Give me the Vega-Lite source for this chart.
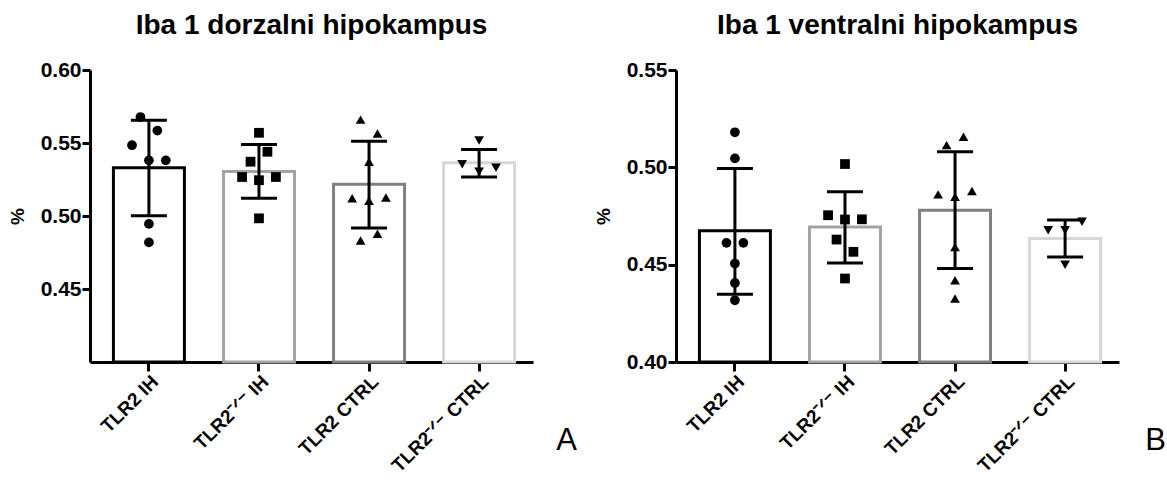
{
  "$schema": "https://vega.github.io/schema/vega-lite/v6.json",
  "padding": {"left": 8, "top": 12, "right": 0, "bottom": 0},
  "background": "white",
  "datasets": {
    "summary": [
      {"panel": "A", "group": "TLR2 IH", "mean": 0.5331, "lo": 0.5002, "hi": 0.5655},
      {"panel": "A", "group": "TLR2⁻ᐟ⁻ IH", "mean": 0.5304, "lo": 0.5122, "hi": 0.549},
      {"panel": "A", "group": "TLR2 CTRL", "mean": 0.5218, "lo": 0.4918, "hi": 0.5512},
      {"panel": "A", "group": "TLR2⁻ᐟ⁻ CTRL", "mean": 0.5365, "lo": 0.5267, "hi": 0.5456},
      {"panel": "B", "group": "TLR2 IH", "mean": 0.4674, "lo": 0.4348, "hi": 0.4994},
      {"panel": "B", "group": "TLR2⁻ᐟ⁻ IH", "mean": 0.4694, "lo": 0.4509, "hi": 0.4874},
      {"panel": "B", "group": "TLR2 CTRL", "mean": 0.478, "lo": 0.448, "hi": 0.508},
      {"panel": "B", "group": "TLR2⁻ᐟ⁻ CTRL", "mean": 0.4634, "lo": 0.454, "hi": 0.4729}
    ],
    "points": [
      {"panel": "A", "group": "TLR2 IH", "value": 0.5678, "slot": -1},
      {"panel": "A", "group": "TLR2 IH", "value": 0.5585, "slot": 1},
      {"panel": "A", "group": "TLR2 IH", "value": 0.5485, "slot": -2},
      {"panel": "A", "group": "TLR2 IH", "value": 0.5381, "slot": 0},
      {"panel": "A", "group": "TLR2 IH", "value": 0.5381, "slot": 2},
      {"panel": "A", "group": "TLR2 IH", "value": 0.4946, "slot": 0},
      {"panel": "A", "group": "TLR2 IH", "value": 0.4819, "slot": 0},
      {"panel": "A", "group": "TLR2⁻ᐟ⁻ IH", "value": 0.557, "slot": 0},
      {"panel": "A", "group": "TLR2⁻ᐟ⁻ IH", "value": 0.544, "slot": 1},
      {"panel": "A", "group": "TLR2⁻ᐟ⁻ IH", "value": 0.5372, "slot": -1},
      {"panel": "A", "group": "TLR2⁻ᐟ⁻ IH", "value": 0.5267, "slot": -2},
      {"panel": "A", "group": "TLR2⁻ᐟ⁻ IH", "value": 0.5245, "slot": 0},
      {"panel": "A", "group": "TLR2⁻ᐟ⁻ IH", "value": 0.5267, "slot": 2},
      {"panel": "A", "group": "TLR2⁻ᐟ⁻ IH", "value": 0.4984, "slot": 0},
      {"panel": "A", "group": "TLR2 CTRL", "value": 0.566, "slot": -1},
      {"panel": "A", "group": "TLR2 CTRL", "value": 0.5565, "slot": 1},
      {"panel": "A", "group": "TLR2 CTRL", "value": 0.5372, "slot": 0},
      {"panel": "A", "group": "TLR2 CTRL", "value": 0.5122, "slot": -2},
      {"panel": "A", "group": "TLR2 CTRL", "value": 0.5104, "slot": 0},
      {"panel": "A", "group": "TLR2 CTRL", "value": 0.5127, "slot": 2},
      {"panel": "A", "group": "TLR2 CTRL", "value": 0.4832, "slot": -1},
      {"panel": "A", "group": "TLR2 CTRL", "value": 0.4878, "slot": 1},
      {"panel": "A", "group": "TLR2⁻ᐟ⁻ CTRL", "value": 0.5517, "slot": 0},
      {"panel": "A", "group": "TLR2⁻ᐟ⁻ CTRL", "value": 0.5354, "slot": -2},
      {"panel": "A", "group": "TLR2⁻ᐟ⁻ CTRL", "value": 0.5331, "slot": 2},
      {"panel": "A", "group": "TLR2⁻ᐟ⁻ CTRL", "value": 0.5304, "slot": 0},
      {"panel": "B", "group": "TLR2 IH", "value": 0.518, "slot": 0},
      {"panel": "B", "group": "TLR2 IH", "value": 0.5046, "slot": 0},
      {"panel": "B", "group": "TLR2 IH", "value": 0.4612, "slot": -1},
      {"panel": "B", "group": "TLR2 IH", "value": 0.4612, "slot": 1},
      {"panel": "B", "group": "TLR2 IH", "value": 0.4506, "slot": 0},
      {"panel": "B", "group": "TLR2 IH", "value": 0.4406, "slot": 0},
      {"panel": "B", "group": "TLR2 IH", "value": 0.4317, "slot": 0},
      {"panel": "B", "group": "TLR2⁻ᐟ⁻ IH", "value": 0.5017, "slot": 0},
      {"panel": "B", "group": "TLR2⁻ᐟ⁻ IH", "value": 0.4754, "slot": -2},
      {"panel": "B", "group": "TLR2⁻ᐟ⁻ IH", "value": 0.4732, "slot": 0},
      {"panel": "B", "group": "TLR2⁻ᐟ⁻ IH", "value": 0.4733, "slot": 2},
      {"panel": "B", "group": "TLR2⁻ᐟ⁻ IH", "value": 0.4629, "slot": -1},
      {"panel": "B", "group": "TLR2⁻ᐟ⁻ IH", "value": 0.4566, "slot": 1},
      {"panel": "B", "group": "TLR2⁻ᐟ⁻ IH", "value": 0.4429, "slot": 0},
      {"panel": "B", "group": "TLR2 CTRL", "value": 0.5114, "slot": -1},
      {"panel": "B", "group": "TLR2 CTRL", "value": 0.5157, "slot": 1},
      {"panel": "B", "group": "TLR2 CTRL", "value": 0.4861, "slot": -2},
      {"panel": "B", "group": "TLR2 CTRL", "value": 0.4849, "slot": 0},
      {"panel": "B", "group": "TLR2 CTRL", "value": 0.4878, "slot": 2},
      {"panel": "B", "group": "TLR2 CTRL", "value": 0.4591, "slot": 0},
      {"panel": "B", "group": "TLR2 CTRL", "value": 0.442, "slot": 0},
      {"panel": "B", "group": "TLR2 CTRL", "value": 0.4326, "slot": 0},
      {"panel": "B", "group": "TLR2⁻ᐟ⁻ CTRL", "value": 0.4677, "slot": -2},
      {"panel": "B", "group": "TLR2⁻ᐟ⁻ CTRL", "value": 0.4677, "slot": 0},
      {"panel": "B", "group": "TLR2⁻ᐟ⁻ CTRL", "value": 0.472, "slot": 2},
      {"panel": "B", "group": "TLR2⁻ᐟ⁻ CTRL", "value": 0.45, "slot": 0}
    ]
  },
  "hconcat": [
    {
      "width": 443,
      "height": 292,
      "title": {"text": "Iba 1 dorzalni hipokampus", "fontSize": 28, "fontWeight": "bold", "font": "Liberation Sans", "color": "black", "anchor": "middle", "frame": "group", "offset": -3, "baseline": "alphabetic"},
      "encoding": {
        "x": {
          "field": "group", "type": "nominal",
          "scale": {"domain": ["TLR2 IH", "TLR2⁻ᐟ⁻ IH", "TLR2 CTRL", "TLR2⁻ᐟ⁻ CTRL"], "paddingInner": 0.355, "paddingOuter": 0.19, "align": 0.56},
          "axis": {"title": "A", "titleX": 476, "titleY": 87, "titleAlign": "center", "titleBaseline": "alphabetic", "titleAngle": 0, "titleFontSize": 31, "titleFontWeight": "normal", "titleFont": "Liberation Sans", "titleColor": "black",
                   "labelAngle": -45, "labelFontSize": 19, "labelFontWeight": "bold", "labelFont": "Liberation Sans", "labelColor": "black", "labelPadding": 1, "labelLimit": 0,
                   "domainColor": "black", "domainWidth": 3, "tickColor": "black", "tickWidth": 3, "tickSize": 9}
        }
      },
      "resolve": {"scale": {"xOffset": "independent"}},
      "layer": [
        {
          "data": {"name": "summary"},
          "transform": [{"filter": "datum.panel == 'A'"}],
          "mark": {"type": "bar", "fill": "white", "strokeWidth": 3},
          "encoding": {
            "y": {"field": "mean", "type": "quantitative",
                  "scale": {"domain": [0.4, 0.6], "nice": false, "zero": false},
                  "axis": {"title": "%", "titleFontSize": 19, "titleFontWeight": "bold", "titleFont": "Liberation Sans", "titleColor": "black", "titlePadding": 13,
                           "values": [0.45, 0.5, 0.55, 0.6], "format": ".2f", "labelFontSize": 21, "labelFontWeight": "bold", "labelFont": "Liberation Sans", "labelColor": "black", "labelPadding": 1,
                           "tickSize": 8, "tickWidth": 3, "tickColor": "black", "domainWidth": 3, "domainColor": "black", "grid": false}},
            "y2": {"datum": 0.4},
            "stroke": {"field": "group", "type": "nominal",
                       "scale": {"domain": ["TLR2 IH", "TLR2⁻ᐟ⁻ IH", "TLR2 CTRL", "TLR2⁻ᐟ⁻ CTRL"], "range": ["#000000", "#a3a3a3", "#808080", "#d6d6d6"]},
                       "legend": null}
          }
        },
        {
          "data": {"name": "summary"},
          "transform": [{"filter": "datum.panel == 'A'"}],
          "mark": {"type": "rule", "color": "black", "strokeWidth": 3},
          "encoding": {"y": {"field": "lo", "type": "quantitative"}, "y2": {"field": "hi"}}
        },
        {
          "data": {"name": "summary"},
          "transform": [{"filter": "datum.panel == 'A'"}],
          "mark": {"type": "tick", "color": "black", "thickness": 3, "size": 36, "opacity": 1},
          "encoding": {"y": {"field": "lo", "type": "quantitative"}}
        },
        {
          "data": {"name": "summary"},
          "transform": [{"filter": "datum.panel == 'A'"}],
          "mark": {"type": "tick", "color": "black", "thickness": 3, "size": 36, "opacity": 1},
          "encoding": {"y": {"field": "hi", "type": "quantitative"}}
        },
        {
          "data": {"name": "points"},
          "transform": [{"filter": "datum.panel == 'A'"}],
          "mark": {"type": "point", "filled": true, "color": "black", "opacity": 1, "size": 95},
          "encoding": {
            "y": {"field": "value", "type": "quantitative"},
            "xOffset": {"field": "slot", "type": "quantitative", "scale": {"domain": [-4.2, 4.2]}},
            "shape": {"field": "group", "type": "nominal",
                      "scale": {"domain": ["TLR2 IH", "TLR2⁻ᐟ⁻ IH", "TLR2 CTRL", "TLR2⁻ᐟ⁻ CTRL"], "range": ["circle", "square", "triangle-up", "triangle-down"]},
                      "legend": null}
          }
        }
      ]
    },
    {
      "width": 443,
      "height": 292,
      "title": {"text": "Iba 1 ventralni hipokampus", "fontSize": 28, "fontWeight": "bold", "font": "Liberation Sans", "color": "black", "anchor": "middle", "frame": "group", "offset": -3, "baseline": "alphabetic"},
      "encoding": {
        "x": {
          "field": "group", "type": "nominal",
          "scale": {"domain": ["TLR2 IH", "TLR2⁻ᐟ⁻ IH", "TLR2 CTRL", "TLR2⁻ᐟ⁻ CTRL"], "paddingInner": 0.355, "paddingOuter": 0.19, "align": 0.56},
          "axis": {"title": "B", "titleX": 479, "titleY": 87, "titleAlign": "center", "titleBaseline": "alphabetic", "titleAngle": 0, "titleFontSize": 31, "titleFontWeight": "normal", "titleFont": "Liberation Sans", "titleColor": "black",
                   "labelAngle": -45, "labelFontSize": 19, "labelFontWeight": "bold", "labelFont": "Liberation Sans", "labelColor": "black", "labelPadding": 1, "labelLimit": 0,
                   "domainColor": "black", "domainWidth": 3, "tickColor": "black", "tickWidth": 3, "tickSize": 9}
        }
      },
      "resolve": {"scale": {"xOffset": "independent"}},
      "layer": [
        {
          "data": {"name": "summary"},
          "transform": [{"filter": "datum.panel == 'B'"}],
          "mark": {"type": "bar", "fill": "white", "strokeWidth": 3},
          "encoding": {
            "y": {"field": "mean", "type": "quantitative",
                  "scale": {"domain": [0.4, 0.55], "nice": false, "zero": false},
                  "axis": {"title": "%", "titleFontSize": 19, "titleFontWeight": "bold", "titleFont": "Liberation Sans", "titleColor": "black", "titlePadding": 13,
                           "values": [0.4, 0.45, 0.5, 0.55], "format": ".2f", "labelFontSize": 21, "labelFontWeight": "bold", "labelFont": "Liberation Sans", "labelColor": "black", "labelPadding": 1,
                           "tickSize": 8, "tickWidth": 3, "tickColor": "black", "domainWidth": 3, "domainColor": "black", "grid": false}},
            "y2": {"datum": 0.4},
            "stroke": {"field": "group", "type": "nominal",
                       "scale": {"domain": ["TLR2 IH", "TLR2⁻ᐟ⁻ IH", "TLR2 CTRL", "TLR2⁻ᐟ⁻ CTRL"], "range": ["#000000", "#a3a3a3", "#808080", "#d6d6d6"]},
                       "legend": null}
          }
        },
        {
          "data": {"name": "summary"},
          "transform": [{"filter": "datum.panel == 'B'"}],
          "mark": {"type": "rule", "color": "black", "strokeWidth": 3},
          "encoding": {"y": {"field": "lo", "type": "quantitative"}, "y2": {"field": "hi"}}
        },
        {
          "data": {"name": "summary"},
          "transform": [{"filter": "datum.panel == 'B'"}],
          "mark": {"type": "tick", "color": "black", "thickness": 3, "size": 36, "opacity": 1},
          "encoding": {"y": {"field": "lo", "type": "quantitative"}}
        },
        {
          "data": {"name": "summary"},
          "transform": [{"filter": "datum.panel == 'B'"}],
          "mark": {"type": "tick", "color": "black", "thickness": 3, "size": 36, "opacity": 1},
          "encoding": {"y": {"field": "hi", "type": "quantitative"}}
        },
        {
          "data": {"name": "points"},
          "transform": [{"filter": "datum.panel == 'B'"}],
          "mark": {"type": "point", "filled": true, "color": "black", "opacity": 1, "size": 95},
          "encoding": {
            "y": {"field": "value", "type": "quantitative"},
            "xOffset": {"field": "slot", "type": "quantitative", "scale": {"domain": [-4.2, 4.2]}},
            "shape": {"field": "group", "type": "nominal",
                      "scale": {"domain": ["TLR2 IH", "TLR2⁻ᐟ⁻ IH", "TLR2 CTRL", "TLR2⁻ᐟ⁻ CTRL"], "range": ["circle", "square", "triangle-up", "triangle-down"]},
                      "legend": null}
          }
        }
      ]
    }
  ],
  "spacing": 143,
  "bounds": "flush",
  "resolve": {"scale": {"x": "independent", "y": "independent"}},
  "config": {"view": {"stroke": null}, "axis": {"grid": false}, "font": "Liberation Sans"}
}
